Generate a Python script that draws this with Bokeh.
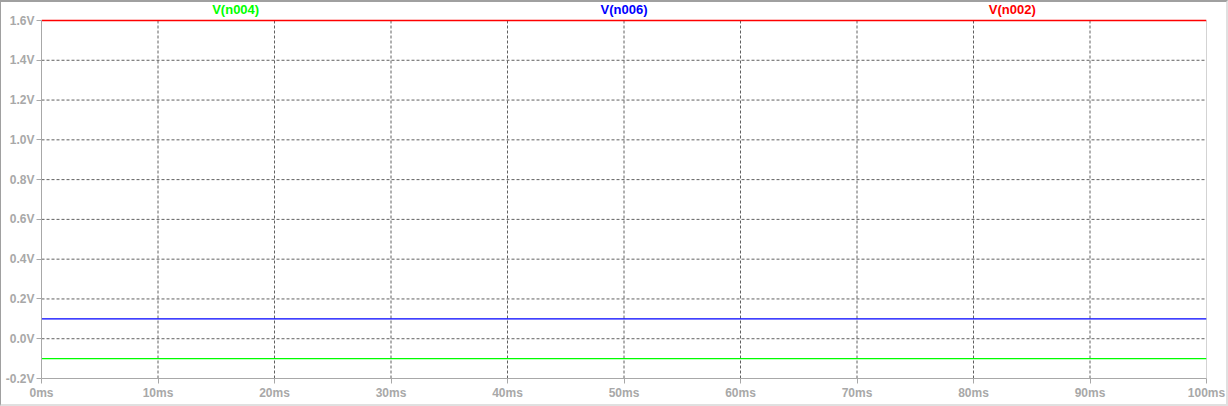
from bokeh.plotting import figure
from bokeh.models import FixedTicker, PrintfTickFormatter, Label, Range1d, InlineStyleSheet
from bokeh.embed import file_html
from bokeh.resources import INLINE

# Data (time in ms, voltages in V)
time_ms = [0, 100]
v_n002 = [1.6, 1.6]
v_n006 = [0.1, 0.1]
v_n004 = [-0.1, -0.1]
series_names = ["V(n004)", "V(n006)", "V(n002)"]
x_ticks = [0, 10, 20, 30, 40, 50, 60, 70, 80, 90, 100]
y_ticks = [-0.2, 0.0, 0.2, 0.4, 0.6, 0.8, 1.0, 1.2, 1.4, 1.6]

FONT = "Liberation Sans"
AXIS_GRAY = "#a8a8a8"
FRAME_H = 378
PLOT_H = 358  # pixels between -0.2 V and 1.6 V
y_lo, y_hi = y_ticks[0], y_ticks[-1]
x_lo, x_hi = x_ticks[0], x_ticks[-1]
headroom = (FRAME_H - PLOT_H) * (y_hi - y_lo) / PLOT_H

p = figure(frame_width=1165, frame_height=FRAME_H, output_backend="svg",
           toolbar_location=None, x_range=Range1d(x_lo, x_hi),
           y_range=Range1d(y_lo, y_hi + headroom),
           min_border_left=41, min_border_right=22, min_border_top=0, min_border_bottom=28,
           background_fill_color="white", border_fill_color="white")
p.outline_line_color = None
p.xgrid.visible = False
p.ygrid.visible = False

# grid (manual, so it stops at the top of the data area)
gx = x_ticks[1:-1]
p.segment(x0=gx, y0=[y_lo] * len(gx), x1=gx, y1=[y_hi] * len(gx),
          line_color="#606060", line_dash="3 2", line_width=1)
gy = y_ticks[1:]
p.segment(x0=[x_lo] * len(gy), y0=gy, x1=[x_hi] * len(gy), y1=gy,
          line_color="#606060", line_dash="3 2", line_width=1)
# right border of the data area
p.segment(x0=[x_hi], y0=[y_lo], x1=[x_hi], y1=[y_hi], line_color=AXIS_GRAY, line_width=1)

p.line(time_ms, v_n002, line_color="#ff0000", line_width=1.3)
p.line(time_ms, v_n006, line_color="#0000ff", line_width=1.3)
p.line(time_ms, v_n004, line_color="#00ff00", line_width=1.3)

for ax in (p.xaxis[0], p.yaxis[0]):
    ax.axis_line_color = AXIS_GRAY
    ax.major_tick_line_color = AXIS_GRAY
    ax.major_tick_out = 5
    ax.major_tick_in = 0
    ax.minor_tick_line_color = None
    ax.major_label_text_color = AXIS_GRAY
    ax.major_label_text_font = FONT
    ax.major_label_text_font_style = "bold"
    ax.major_label_text_font_size = "12px"
    ax.major_label_standoff = 2

p.xaxis[0].ticker = FixedTicker(ticks=x_ticks)
p.xaxis[0].formatter = PrintfTickFormatter(format="%dms")
p.yaxis[0].ticker = FixedTicker(ticks=y_ticks)
p.yaxis[0].formatter = PrintfTickFormatter(format="%.1fV")
p.yaxis[0].bounds = (y_lo, y_hi)

colors = ["#00ff00", "#0000ff", "#ff0000"]
span = x_hi - x_lo
for i, (name, c) in enumerate(zip(series_names, colors)):
    xpos = x_lo + span * (2 * i + 1) / 6
    p.add_layout(Label(x=xpos, y=y_hi, y_offset=4, text=name, text_color=c,
                       text_font=FONT, text_font_style="bold", text_font_size="13px",
                       text_align="center", text_baseline="bottom"))

p.stylesheets = [InlineStyleSheet(css="""
:host { position: relative; }
:host::after {
  content: ""; position: absolute; left: 0; top: 0; right: 0; bottom: 0;
  box-sizing: border-box; pointer-events: none; z-index: 100;
  border-top: 2px solid #a0a0a0; border-left: 1px solid #a0a0a0;
  border-right: 2px solid #e0e0e0; border-bottom: 2px solid #e0e0e0;
}
""")]

open("out.html", "w").write(file_html(p, INLINE))
